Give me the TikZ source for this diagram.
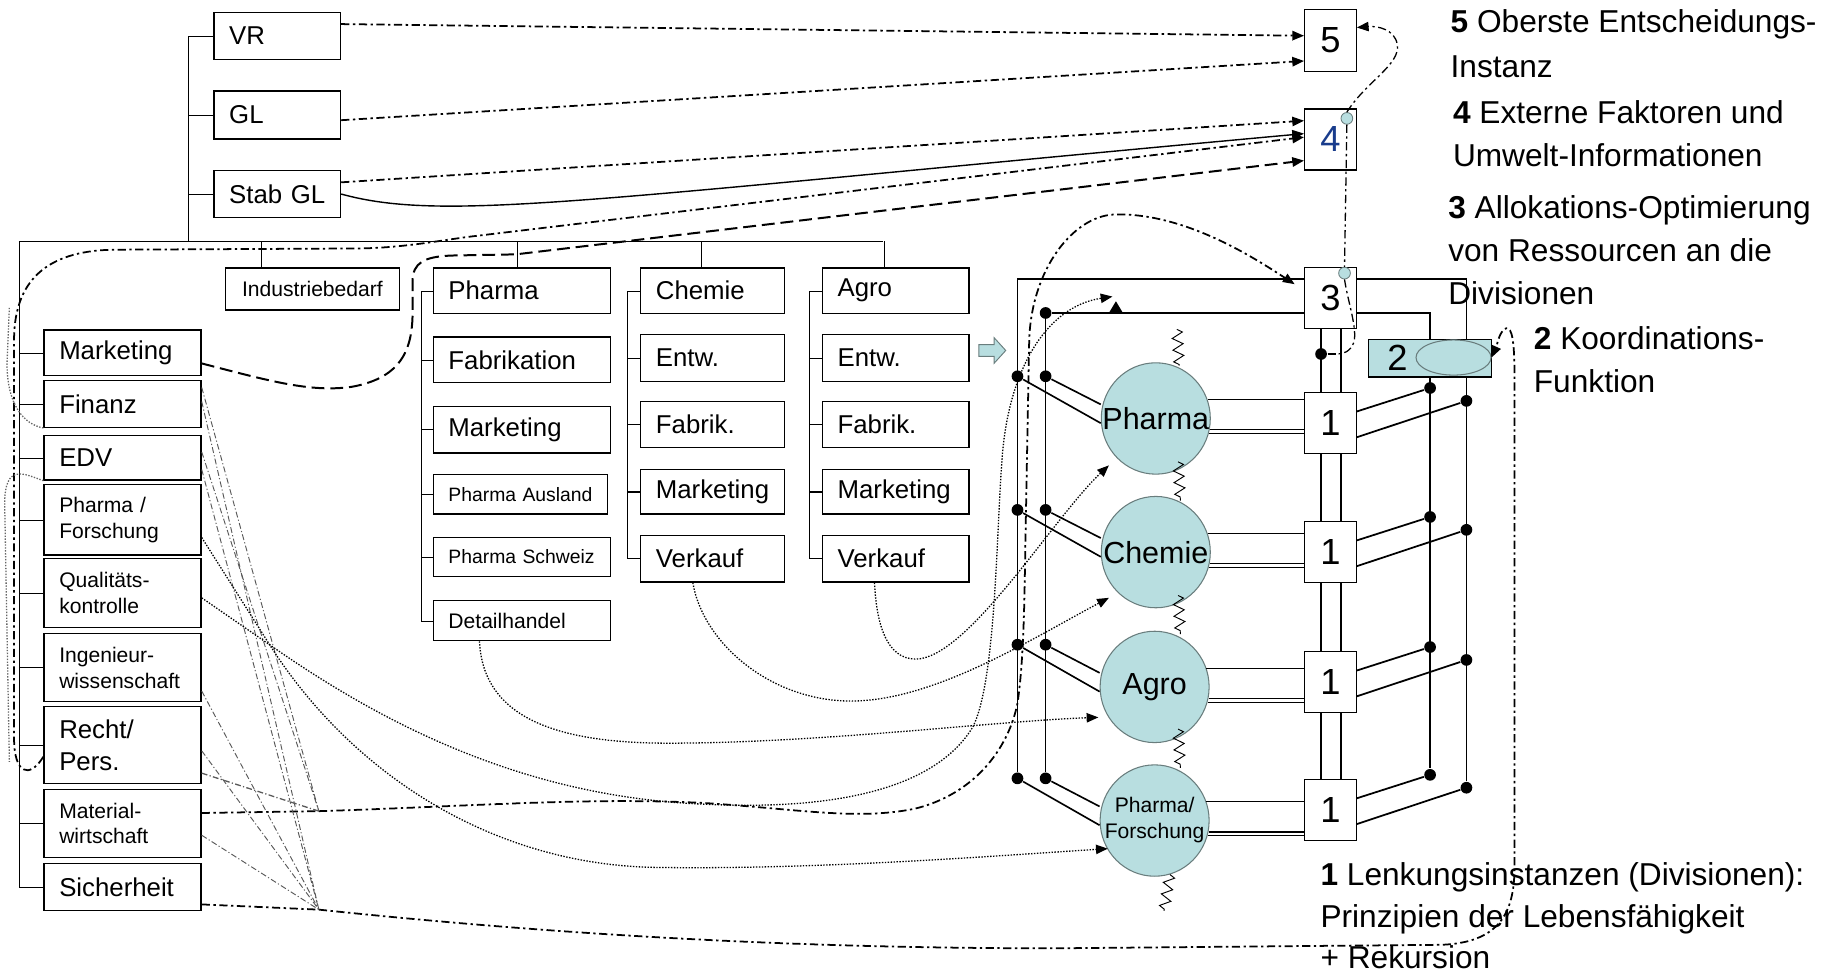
\documentclass[tikz,border=0pt]{standalone}
\usepackage{fontspec}
\setmainfont{Liberation Sans}
\usetikzlibrary{arrows.meta,shapes.geometric,backgrounds,decorations.pathmorphing}
\definecolor{aqua1}{RGB}{184,222,224}
\definecolor{rim}{RGB}{105,125,125}
\definecolor{numblue}{RGB}{25,60,140}
\newcommand\fBig{\fontsize{22}{27}\selectfont}
\newcommand\fSm{\fontsize{18}{22}\selectfont}
\newcommand\fXs{\fontsize{16.5}{20}\selectfont}
\newcommand\fCirc{\fontsize{26}{30}\selectfont}
\newcommand\fNum{\fontsize{31}{34}\selectfont}
\newcommand\fLeg{\fontsize{27}{38}\selectfont}
\begin{document}
\begin{tikzpicture}[x=1pt,y=-1pt,line width=1.1pt,
  obox/.style 2 args={draw, fill=white, line width=1.1pt, anchor=north west, inner xsep=13pt, inner ysep=0pt, text width=#1, minimum height=#2, align=left},
  nbox/.style={draw, fill=white, line width=1.1pt, minimum width=44pt, minimum height=52pt, inner sep=0pt, font=\fNum},
  circ/.style={ellipse, draw=rim, line width=0.9pt, fill=aqua1, minimum width=93pt, minimum height=95pt, inner sep=0pt, font=\fCirc},
  bdot/.style={circle, fill=black, inner sep=0pt, minimum size=10pt},
  mini/.style={circle, draw=rim, fill=aqua1, inner sep=0pt, minimum size=10pt, line width=0.7pt},
  leg/.style={anchor=base west, inner sep=0pt, font=\fLeg},
  dd/.style={line width=1.5pt, dash pattern=on 7pt off 3pt on 2pt off 3pt},
  ddt/.style={line width=0.8pt, draw=black!65, dash pattern=on 5pt off 2pt on 1pt off 2pt},
  dsh/.style={line width=1.7pt, dash pattern=on 11pt off 5pt},
  dts/.style={line width=1.1pt, dash pattern=on 1.2pt off 1.3pt},
  arr/.style={-{Triangle[length=10pt,width=8pt]}},
  zz/.style={line width=0.8pt, decorate, decoration={zigzag, segment length=10pt, amplitude=4.5pt}}
]
\useasboundingbox (0,0) rectangle (1568,832);

% ---------- top boxes
\node[obox={82pt}{40pt}, font=\fBig] (VR) at (182,10) {VR};
\node[obox={82pt}{41pt}, font=\fBig] (GL) at (182,77) {GL};
\node[obox={82pt}{40pt}, font=\fBig] (Stab) at (182,145) {Stab GL};
\node[obox={122pt}{36pt}, font=\fSm, align=center] (Ind) at (192,228) {Industriebedarf};

% ---------- left column
\node[obox={108pt}{39pt}, font=\fBig] (Mkt) at (37,281) {Marketing};
\node[obox={108pt}{40pt}, font=\fBig] (Fin) at (37,324) {Finanz};
\node[obox={108pt}{38pt}, font=\fBig] (EDV) at (37,371) {EDV};
\node[obox={108pt}{60pt}, font=\fSm] (PF) at (37,413) {Pharma /\\Forschung};
\node[obox={108pt}{59pt}, font=\fSm] (Qual) at (37,476) {Qualitäts-\\kontrolle};
\node[obox={108pt}{58pt}, font=\fSm] (Ing) at (37,540) {Ingenieur-\\wissenschaft};
\node[obox={108pt}{66pt}, font=\fBig] (Recht) at (37,602) {Recht/\\Pers.};
\node[obox={108pt}{58pt}, font=\fSm] (Mat) at (37,673) {Material-\\wirtschaft};
\node[obox={108pt}{40pt}, font=\fBig] (Sich) at (37,736) {Sicherheit};

% ---------- Pharma column
\node[obox={125pt}{39pt}, font=\fBig] (PhH) at (369,228) {Pharma};
\node[obox={125pt}{39pt}, font=\fBig] (Fab) at (369,287) {Fabrikation};
\node[obox={125pt}{40pt}, font=\fBig] (PMk) at (369,346) {Marketing};
\node[obox={123pt}{34pt}, font=\fXs] (PAus) at (369,404) {Pharma Ausland};
\node[obox={125pt}{33pt}, font=\fXs] (PSch) at (369,458) {Pharma Schweiz};
\node[obox={125pt}{34pt}, font=\fSm] (Det) at (369,512) {Detailhandel};

% ---------- Chemie column
\node[obox={97pt}{39pt}, font=\fBig] (CH) at (546,228) {Chemie};
\node[obox={97pt}{40pt}, font=\fBig] (CE) at (546,285) {Entw.};
\node[obox={97pt}{39pt}, font=\fBig] (CF) at (546,342) {Fabrik.};
\node[obox={97pt}{38pt}, font=\fBig] (CM) at (546,400) {Marketing};
\node[obox={97pt}{40pt}, font=\fBig] (CV) at (546,456) {Verkauf};

% ---------- Agro column
\node[obox={99pt}{39pt}, font=\fBig] (AH) at (701,228) {Agro};
\node[obox={99pt}{40pt}, font=\fBig] (AE) at (701,285) {Entw.};
\node[obox={99pt}{39pt}, font=\fBig] (AF) at (701,342) {Fabrik.};
\node[obox={99pt}{38pt}, font=\fBig] (AM) at (701,400) {Marketing};
\node[obox={99pt}{40pt}, font=\fBig] (AV) at (701,456) {Verkauf};

% ---------- right structure
\node[nbox, minimum height=53pt] (b5) at (1135,34.5) {5};
\node[nbox, text=numblue] (b4) at (1135,119) {4};
\node[nbox] (b3) at (1135,254) {3};
\node[nbox] (b1a) at (1135,361) {1};
\node[nbox] (b1b) at (1135,471) {1};
\node[nbox] (b1c) at (1135,582) {1};
\node[nbox] (b1d) at (1135,691) {1};
\node[draw, line width=1.1pt, fill=aqua1, anchor=north west, inner xsep=16pt, inner ysep=0pt, text width=73pt, minimum height=32pt, align=left, font=\fNum] (b2) at (1167,289) {2};
\node[ellipse, draw=rim, fill=aqua1, minimum width=64pt, minimum height=30pt, inner sep=0pt, line width=0.9pt] (e2) at (1240,305) {};

\node[circ] (Ph) at (986,357) {\makebox[0pt]{Pharma}};
\node[circ] (Ch) at (986,471) {\makebox[0pt]{Chemie}};
\node[circ] (Ag) at (985,586) {\makebox[0pt]{Agro}};
\node[circ, font=\fSm] (PFc) at (985,700) {\makebox[0pt]{\begin{tabular}{@{}c@{}}Pharma/\\Forschung\end{tabular}}};

\node[mini] (c4) at (1149,101) {};
\node[mini] (c3) at (1147,233) {};

% dots
\node[bdot] (T0) at (892,267) {};
\node[bdot] (L1) at (868,321) {}; \node[bdot] (M1) at (892,321) {};
\node[bdot] (L2) at (868,435) {}; \node[bdot] (M2) at (892,435) {};
\node[bdot] (L3) at (868,550) {}; \node[bdot] (M3) at (892,550) {};
\node[bdot] (L4) at (868,664) {}; \node[bdot] (M4) at (892,664) {};
\node[bdot] (R1a) at (1220,331) {}; \node[bdot] (R1b) at (1251,342) {};
\node[bdot] (R2a) at (1220,441) {}; \node[bdot] (R2b) at (1251,452) {};
\node[bdot] (R3a) at (1220,552) {}; \node[bdot] (R3b) at (1251,563) {};
\node[bdot] (R4a) at (1220,661) {}; \node[bdot] (R4b) at (1251,672) {};
\node[bdot] (d32) at (1127,302) {};

% coordinates
\coordinate (busL) at (16,206);
\coordinate (busM) at (161,206);
\coordinate (busR) at (753,206);
\coordinate (pA) at (272,692);
\coordinate (pB) at (272,776);
\coordinate (pC) at (230,550);
\coordinate (aTop) at (949,253);
\coordinate (aPh) at (946,397);
\coordinate (aCh) at (946,510);
\coordinate (aAg) at (937,612);
\coordinate (aPF) at (945,724);

% ---------- background structure lines
\begin{scope}[on background layer]
  \draw (VR.west) -| (busM);
  \draw (GL.west) -- (GL.west -| busM);
  \draw (Stab.west) -- (Stab.west -| busM);
  \draw (busL) -- (busR);
  \draw ([xshift=-44pt]Ind.north) -- ++(0,-22);
  \draw ([xshift=-4pt]PhH.north) -- ++(0,-22);
  \draw ([xshift=-10pt]CH.north) -- ++(0,-22);
  \draw ([xshift=-10pt]AH.north) -- ++(0,-22);
  \draw (busL) |- (Sich.west);
  \foreach \n in {Mkt,Fin,EDV,PF,Qual,Ing,Recht,Mat} \draw (\n.west) -- (\n.west -| busL);
  \draw (PhH.west) -- ++(-10,0) |- (Det.west);
  \foreach \n in {Fab,PMk,PAus,PSch} \draw (\n.west) -- ++(-10,0);
  \draw (CH.west) -- ++(-11,0) |- (CV.west);
  \foreach \n in {CE,CF,CM} \draw (\n.west) -- ++(-11,0);
  \draw[line width=1.8pt] (CM.west) -- ++(-11,0);
  \draw (AH.west) -- ++(-11,0) |- (AV.west);
  \foreach \n in {AE,AF,AM} \draw (\n.west) -- ++(-11,0);
  \draw[line width=1.8pt] (AM.west) -- ++(-11,0);
  % frame
  \draw[line width=1.2pt] ([yshift=16pt]b3.west) -| (L4);
  \draw[line width=1.2pt] ([yshift=-13pt]b3.west) -- (T0) -- (M4);
  \draw[line width=1.2pt] ([yshift=16pt]b3.east) -| (R4b);
  \draw[line width=1.2pt] ([yshift=-13pt]b3.east) -| (R4a);
  \draw[line width=1.2pt] ([xshift=-8pt]b3.south) -- ([xshift=-8pt]b1d.north);
  \draw[line width=1.2pt] ([xshift=9pt]b3.south) -- ([xshift=9pt]b1d.north);
  \draw[line width=1.2pt] (d32) -- ++(13,0);
\end{scope}

% dots to circles, circles to boxes, boxes to right dots
\foreach \L/\M/\X/\B/\Ra/\Rb in {L1/M1/Ph/b1a/R1a/R1b, L2/M2/Ch/b1b/R2a/R2b, L3/M3/Ag/b1c/R3a/R3b, L4/M4/PFc/b1d/R4a/R4b}{
  \draw[line width=1.4pt] (\L) -- ([yshift=-4pt]\X.west);
  \draw[line width=1.4pt] (\M) -- ([yshift=12pt]\X.west);
  \draw[line width=0.9pt] (\X.20) -- (\X.20 -| \B.west);
  \draw[line width=0.9pt] (\X.-12) -- (\X.-12 -| \B.west);
  \draw[line width=0.9pt] (\X.-16) -- (\X.-16 -| \B.west);
  \draw[line width=1.5pt] ([yshift=10pt]\B.east) -- (\Ra);
  \draw[line width=1.5pt] ([yshift=-12pt]\B.east) -- (\Rb);
}

% squiggles
\draw[zz] (1004,281) -- (1006,312);
\draw[zz] (1005,394) -- (1007,427);
\draw[zz] (1005,508) -- (1007,541);
\draw[zz] (1005,622) -- (1007,655);
\draw[zz] (998,746) -- (993,777);

% block arrow and small triangle
\draw[fill=aqua1, draw=rim, line width=0.8pt] (835,294) -- (848,294) -- (848,288) -- (858,299) -- (848,310) -- (848,304) -- (835,304) -- cycle;
\fill (946,267) -- (952,257) -- (958,267) -- cycle;

% ---------- top dash-dot arrows
\draw[dd, arr] ([yshift=10pt]VR.east) -- ([yshift=4pt]b5.west);
\draw[dd, arr] ([yshift=-4.5pt]GL.east) -- ([yshift=-17.5pt]b5.west);
\draw[dd, arr] ([yshift=10pt]Stab.east) -- ([yshift=16pt]b4.west);
\draw[line width=1.2pt, arr] (Stab.east) .. controls (380,190) and (500,170) .. ([yshift=5pt]b4.west);
\draw[dd, arr] ([yshift=-10pt]Recht.west) .. controls (25,665) and (12,660) .. (12,630) -- (12,290)
   .. controls (12,235) and (45,213) .. (100,213) -- (300,212) .. controls (340,212) and (370,206) .. (400,202) -- ([yshift=2pt]b4.west);
\draw[dsh, arr] ([yshift=-9pt]Mkt.east) .. controls (230,325) and (265,335) .. (300,330)
   .. controls (345,322) and (352,295) .. (352,265) -- (352,240) .. controls (352,224) and (362,219) .. (385,218)
   -- (440,217) -- ([yshift=-18pt]b4.west);

% ---------- material and sicherheit dash-dot
\draw[dd] ([yshift=9pt]Mat.east) -- (pA);
\draw[dd, arr] (pA) .. controls (400,688) and (500,680) .. (600,685) .. controls (680,690) and (730,700) .. (780,690)
   .. controls (830,678) and (860,640) .. (868,600) .. controls (874,560) and (874,500) .. (875,450) -- (878,290)
   .. controls (880,230) and (915,185) .. (950,183) .. controls (1010,181) and (1070,220) .. ([shift={(-8pt,-15pt)}]b3.north west);
\draw[dd] ([yshift=-15pt]Sich.east) -- (pB);
\draw[dd, arr] (pB) .. controls (500,800) and (700,809) .. (900,809) -- (1230,806)
   .. controls (1278,804) and (1292,780) .. (1292,740) -- (1292,320)
   .. controls (1292,292) and (1290,279) .. (1285,280) .. controls (1279,282) and (1277,295) .. (e2.east);

% ---------- 4/5/3 dash-dot links
\draw[dd, line width=1.1pt, arr] (c4.north) .. controls (1165,70) and (1195,55) .. (1192,38)
   .. controls (1190,25) and (1175,22) .. ([yshift=11pt]b5.east);
\draw[dd, line width=1.1pt] (c4.south) -- (c3.north);
\draw[dd, line width=1.1pt] (c3.south) .. controls (1150,258) and (1158,280) .. (1155,292)
   .. controls (1152,300) and (1146,302) .. ([xshift=14pt]d32.center);

% ---------- thin lines from staff boxes
\draw[ddt] ([yshift=14pt]Fin.east) -- (pA);
\draw[ddt] ([yshift=2pt]Fin.east) -- (pB);
\draw[ddt] ([yshift=5pt]EDV.east) -- (pA);
\draw[ddt] ([yshift=-10pt]EDV.east) -- (pB);
\draw[ddt] ([yshift=-20pt]Ing.east) -- (pB);
\draw[ddt] ([yshift=-5pt]Recht.east) -- (pB);
\draw[ddt, line width=1.1pt] ([yshift=-24pt]Recht.east) -- (pA);
\draw[ddt] ([yshift=-10pt]Mat.east) -- (pB);

% left edge dotted
\draw[dts, draw=black!60] (Fin.south west) .. controls (20,362) and (6,345) .. (6,310) -- (8,262);
\draw[dts, draw=black!60] (EDV.south west) .. controls (20,404) and (4,395) .. (4,430) -- (8,650);

% ---------- dotted arrows to the divisions
\draw[dts, arr] ([yshift=-4pt]Qual.east) -- (pC) .. controls (330,620) and (450,680) .. (600,686)
   .. controls (720,692) and (800,670) .. (830,620) .. controls (850,580) and (850,450) .. (855,390)
   .. controls (860,320) and (890,262) .. (aTop);
\draw[dts, arr] ([yshift=-15pt]PF.east) -- (pC) .. controls (300,660) and (420,738) .. (560,740)
   .. controls (700,742) and (850,730) .. (aPF);
\draw[dts, arr] ([xshift=-36pt]Det.south) .. controls (412,610) and (470,634) .. (570,634)
   .. controls (700,634) and (850,615) .. (aAg);
\draw[dts, arr] ([xshift=-17pt]CV.south) .. controls (600,550) and (660,600) .. (730,598)
   .. controls (800,596) and (880,545) .. (aCh);
\draw[dts, arr] ([xshift=-18pt]AV.south) .. controls (748,540) and (760,565) .. (785,562)
   .. controls (830,555) and (900,440) .. (aPh);

% ---------- legend
\node[leg] (l5a) at (1237,28) {\textbf{5} Oberste Entscheidungs-};
\node[leg] (l5b) at (1237,66) {Instanz};
\node[leg] (l4a) at (1239,105) {\textbf{4} Externe Faktoren und};
\node[leg] (l4b) at (1239,142) {Umwelt-Informationen};
\node[leg] (l3a) at (1235,186) {\textbf{3} Allokations-Optimierung};
\node[leg] (l3b) at (1235,223) {von Ressourcen an die};
\node[leg] (l3c) at (1235,260) {Divisionen};
\node[leg] (l2a) at (1308,298) {\textbf{2} Koordinations-};
\node[leg] (l2b) at (1308,335) {Funktion};
\node[leg] (l1a) at (1126,755) {\textbf{1} Lenkungsinstanzen (Divisionen):};
\node[leg] (l1b) at (1126,791) {Prinzipien der Lebensfähigkeit};
\node[leg] (l1c) at (1126,826) {+ Rekursion};
\end{tikzpicture}
\end{document}
